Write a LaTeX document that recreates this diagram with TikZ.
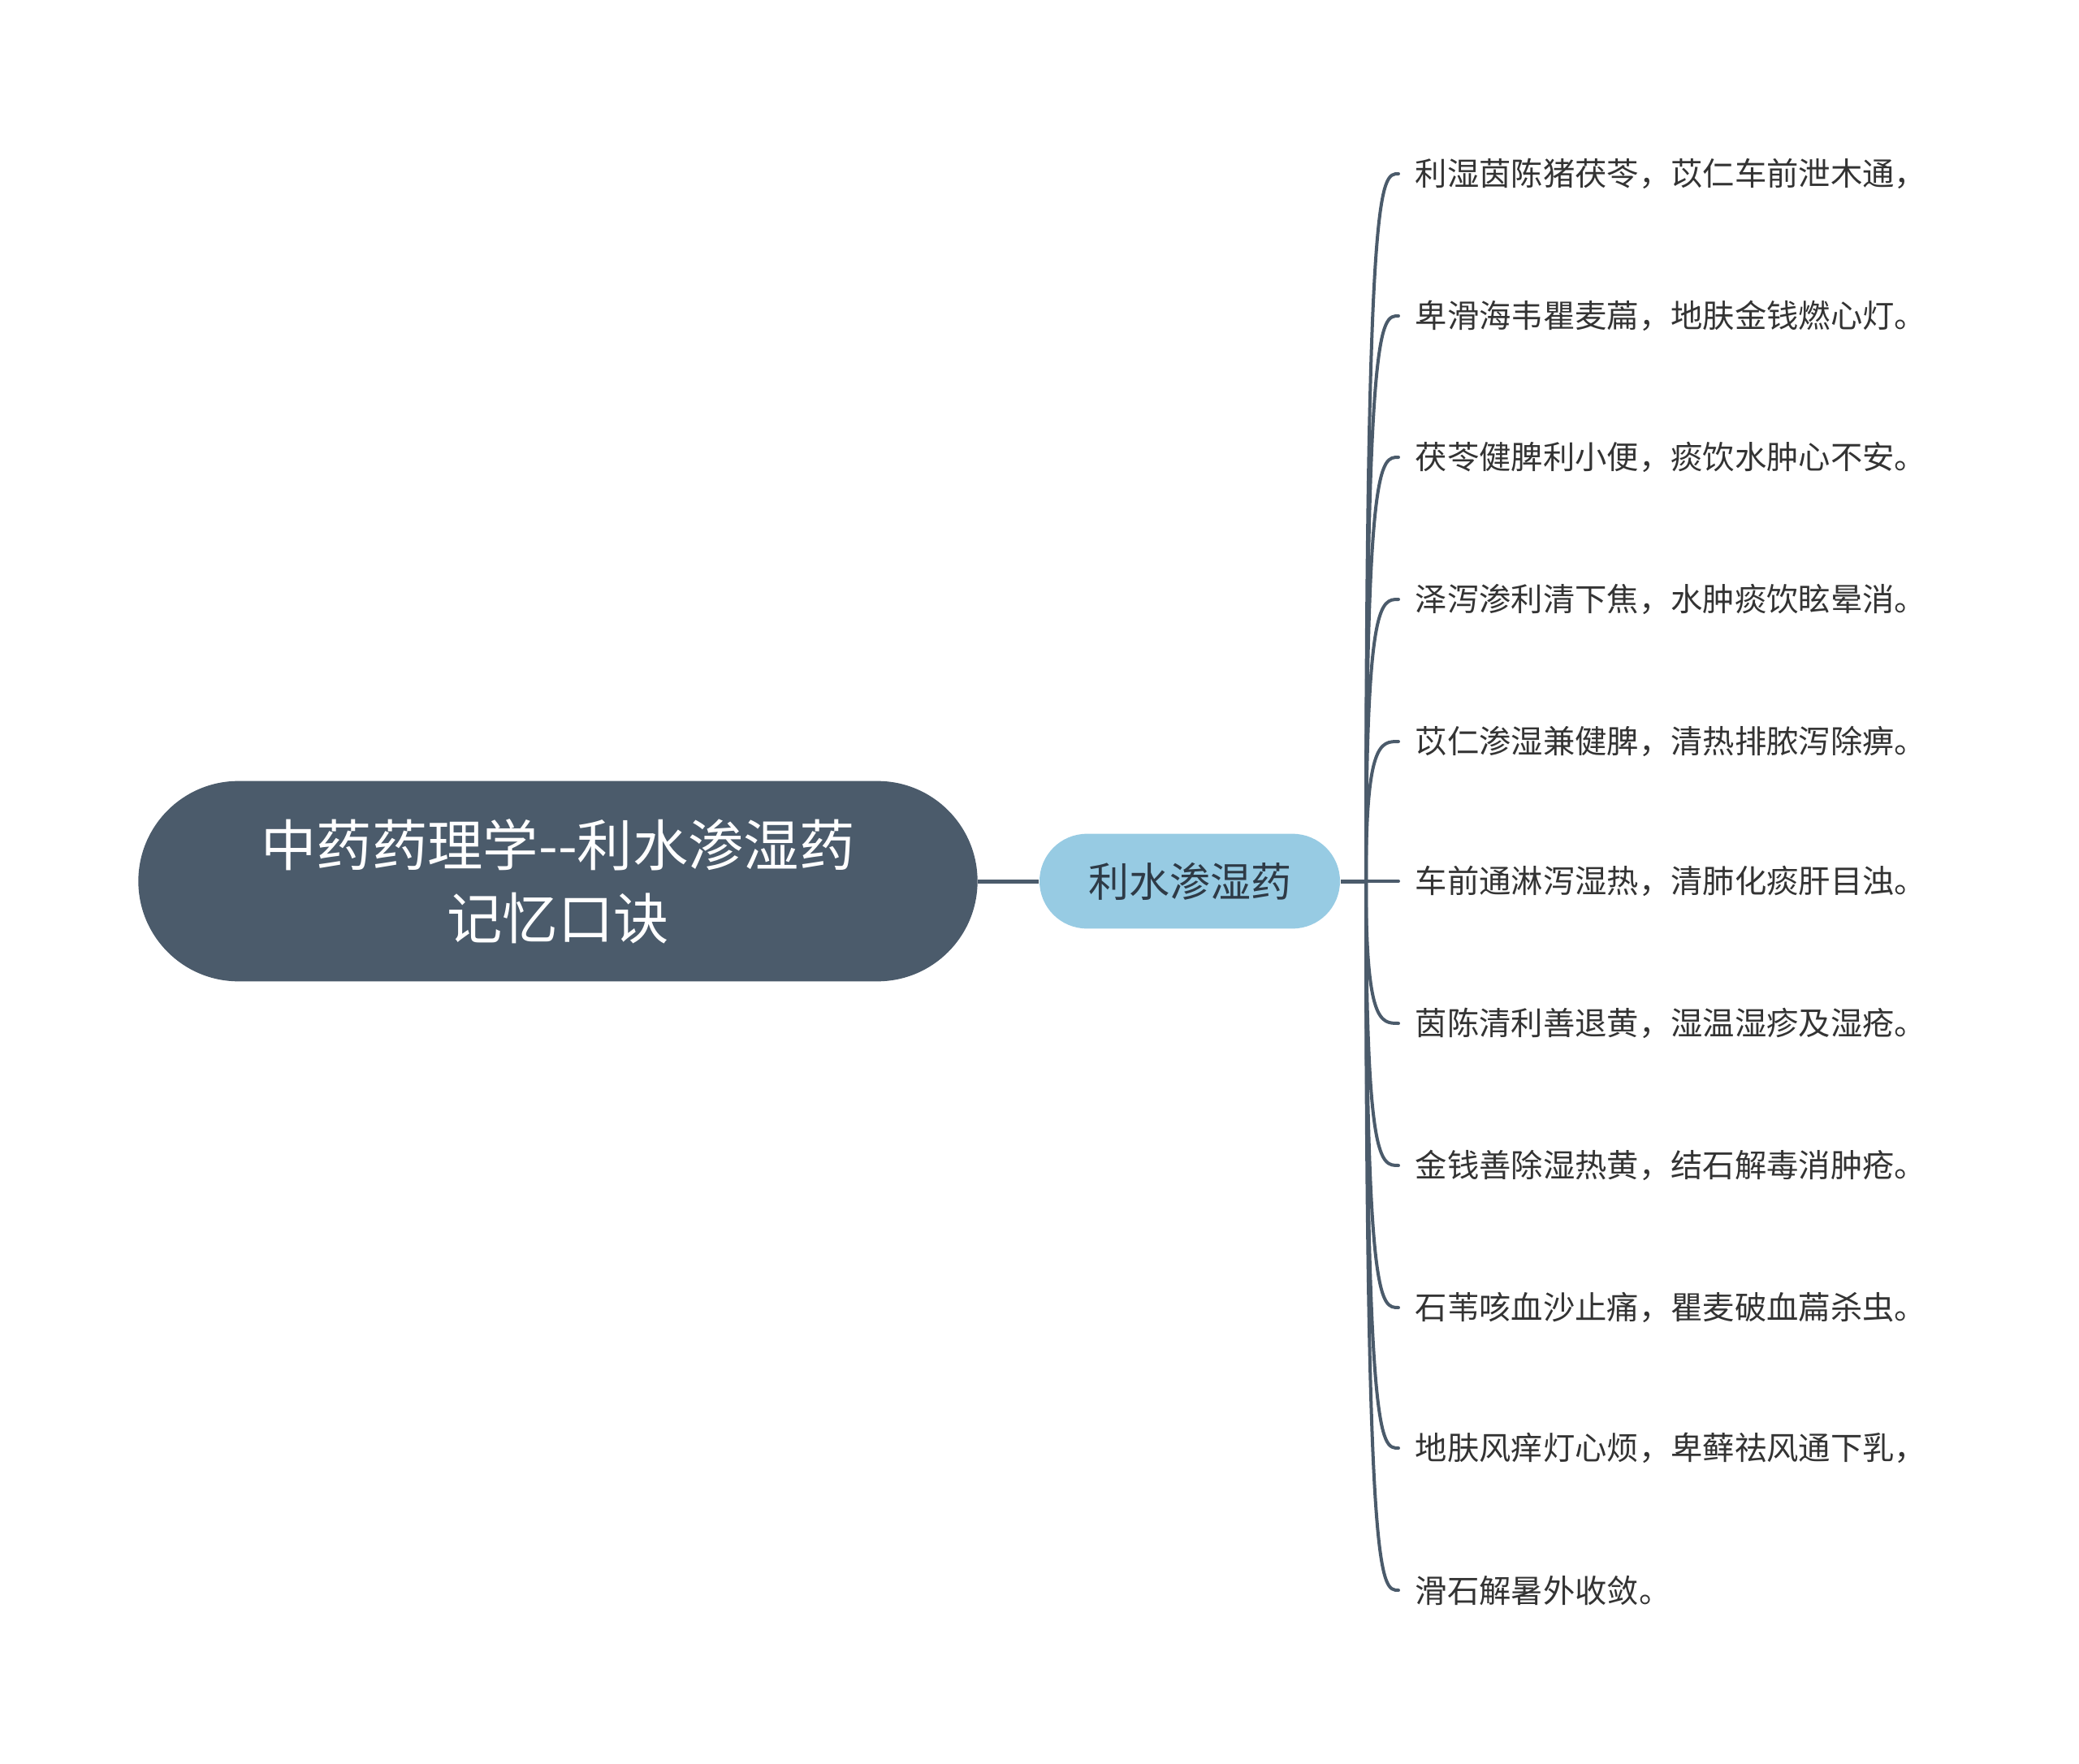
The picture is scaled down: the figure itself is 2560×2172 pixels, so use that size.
\documentclass[tikz,border=0pt]{standalone}
\usepackage{fontspec}
\setmainfont{Noto Sans CJK SC}
\usetikzlibrary{positioning}
\definecolor{rootslate}{HTML}{4B5B6B}
\definecolor{subblue}{HTML}{97CBE3}
\definecolor{subtext}{HTML}{2E3A46}
\definecolor{leaftext}{HTML}{333333}

\begin{document}
\begin{tikzpicture}[
    x=0.3pt,y=-0.3pt,
    rootbox/.style={rectangle,rounded corners=37pt,fill=rootslate,text=white,
      align=center,minimum width=310pt,minimum height=74pt,
      font=\fontsize{20.5pt}{27pt}\selectfont},
    subbox/.style={rectangle,rounded corners=17.5pt,fill=subblue,text=subtext,
      align=center,minimum width=111pt,minimum height=35pt,
      font=\fontsize{15pt}{18pt}\selectfont},
    leafbox/.style={anchor=west,inner xsep=6pt,inner ysep=0pt,text=leaftext,
      font=\fontsize{11.8pt}{14pt}\selectfont},
    link/.style={draw=rootslate,line width=1.5pt},
    branch/.style={draw=rootslate,line width=1.2pt,line cap=round},
  ]
  \useasboundingbox (0,0) rectangle (2560,2172);
  \node[rootbox] (root) at (687,1085) {中药药理学-{}-利水渗湿药\\记忆口诀};
  \node[subbox,right=22.5pt of root] (sub) {利水渗湿药};
  \draw[link] (root) -- (sub);
  \coordinate (hub) at (1682,1085);
  \draw[link] (sub.east) -- (hub);
  % verses
  \foreach \y/\verse [count=\i] in {
      214/利湿茵陈猪茯苓，苡仁车前泄木通，,
      389/卑滑海韦瞿麦萹，地肤金钱燃心灯。,
      563/茯苓健脾利小便，痰饮水肿心不安。,
      738/泽泻渗利清下焦，水肿痰饮眩晕消。,
      913/苡仁渗湿兼健脾，清热排脓泻除痹。,
      1085/车前通淋泻湿热，清肺化痰肝目浊。,
      1260/茵陈清利善退黄，湿温湿疹及湿疮。,
      1435/金钱善除湿热黄，结石解毒消肿疮。,
      1610/石苇咳血沙止痛，瞿麦破血萹杀虫。,
      1783/地肤风痒灯心烦，卑藓祛风通下乳，,
      1958/滑石解暑外收敛。} {
    \node[leafbox] (leaf\i) at (1722,\y) {\verse};
    \draw[branch] (hub) .. controls (1682,\y) and (1700,\y) .. (leaf\i.west);
  }
\end{tikzpicture}
\end{document}
